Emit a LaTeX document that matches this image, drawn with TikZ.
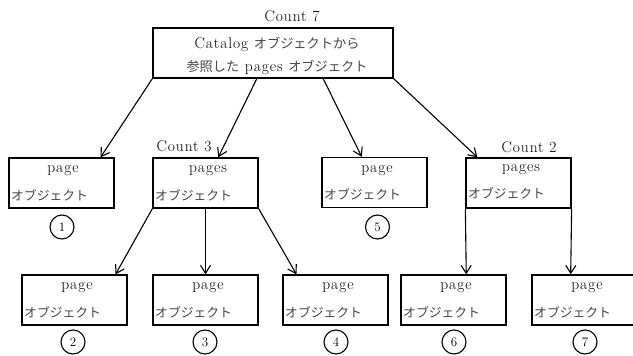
\documentclass[tikz,border=0pt]{standalone}
\usepackage{fontspec}
\newfontfamily\jp{Noto Sans CJK JP}
\newfontfamily\lat{Latin Modern Roman}[LetterSpace=6]
\usetikzlibrary{arrows.meta,calc}
\newcommand{\J}[1]{{\fontsize{13.2}{15}\selectfont\jp\color{black!72}#1}}
\tikzset{
  box/.style={draw, line width=1.3pt, rectangle, minimum width=105pt, minimum height=50pt, inner sep=0pt},
  bigbox/.style={box, minimum width=240pt},
  lat/.style={font=\lat\fontsize{15.5}{18}\selectfont, inner sep=0pt},
  jpl/.style={font=\fontsize{12.8}{15}\selectfont\jp, text=black!72, inner sep=0pt, anchor=west},
  num/.style={draw, circle, line width=1.1pt, minimum size=24pt, inner sep=0pt, font=\fontsize{13}{15}\selectfont},
  arr/.style={line width=1.1pt, -{Straight Barb[length=8pt,width=10pt,line width=1.1pt]}},
}
\begin{document}
\begin{tikzpicture}[x=1pt,y=-1pt]
\useasboundingbox (0,0) rectangle (633,356);
\fill[white] (0,0) rectangle (633,356);
\begin{scope}
\clip (0,0) rectangle (633,356);
% level 1
\node[bigbox] (cat) at (273,53) {};
\node[lat] (catl1) at (277,44) {Catalog \J{オブジェクトから}};
\node[lat] (catl2) at (277,67) {\J{参照した} pages \J{オブジェクト}};
\node[lat] (c7) at (292,16) {Count 7};
% level 2
\node[box] (p1) at (61.5,183) {};
\node[lat] (p1a) at (63,171) {page};
\node[jpl] (p1b) at (11,195) {オブジェクト};
\node[num] (n1) at (62,227) {1};

\node[box] (ps3) at (205.5,183) {};
\node[lat] (ps3a) at (208,171) {pages};
\node[jpl] (ps3b) at (155,195) {オブジェクト};
\node[lat] (c3) at (184,146) {Count 3};

\node[box] (p5) at (374.5,182.5) {};
\node[lat] (p5a) at (377,171) {page};
\node[jpl] (p5b) at (324,194) {オブジェクト};
\node[num] (n5) at (377.5,227) {5};

\node[box] (ps2) at (518.5,183) {};
\node[lat] (ps2a) at (521,170) {pages};
\node[jpl] (ps2b) at (468,193) {オブジェクト};
\node[lat] (c2) at (529,147) {Count 2};
% level 3
\node[box] (p2) at (74.5,300) {};
\node[lat] (p2a) at (77,288) {page};
\node[jpl] (p2b) at (24,312) {オブジェクト};
\node[num] (n2) at (73,342) {2};

\node[box] (p3) at (205.5,300) {};
\node[lat] (p3a) at (208,288) {page};
\node[jpl] (p3b) at (155,312) {オブジェクト};
\node[num] (n3) at (205,342) {3};

\node[box] (p4) at (335.5,300) {};
\node[lat] (p4a) at (338,288) {page};
\node[jpl] (p4b) at (285,312) {オブジェクト};
\node[num] (n4) at (336,342) {4};

\node[box] (p6) at (453.5,300) {};
\node[lat] (p6a) at (456,288) {page};
\node[jpl] (p6b) at (403,312) {オブジェクト};
\node[num] (n6) at (454,342) {6};

\node[box] (p7) at (584.5,300) {};
\node[lat] (p7a) at (587,288) {page};
\node[jpl] (p7b) at (534,312) {オブジェクト};
\node[num] (n7) at (585,342) {7};
% connectors
\draw[arr] (cat.south west) -- ($(p1.north west)!0.867!(p1.north east)$);
\draw[arr] ($(cat.south west)!0.433!(cat.south east)$) -- ($(ps3.north west)!0.62!(ps3.north east)$);
\draw[arr] ($(cat.south west)!0.708!(cat.south east)$) -- ($(p5.north west)!0.38!(p5.north east)$);
\draw[arr] (cat.south east) -- ($(ps2.north west)!0.114!(ps2.north east)$);
\draw[arr] (ps3.south west) -- ($(p2.north west)!0.886!(p2.north east)$);
\draw[arr] (ps3.south) -- (p3.north);
\draw[arr] (ps3.south east) -- ($(p4.north west)!0.133!(p4.north east)$);
\draw[arr] (ps2.south west) -- ($(p6.north west)!0.62!(p6.north east)$);
\draw[arr] (ps2.south east) -- ($(p7.north west)!0.37!(p7.north east)$);
\end{scope}
\end{tikzpicture}
\end{document}
